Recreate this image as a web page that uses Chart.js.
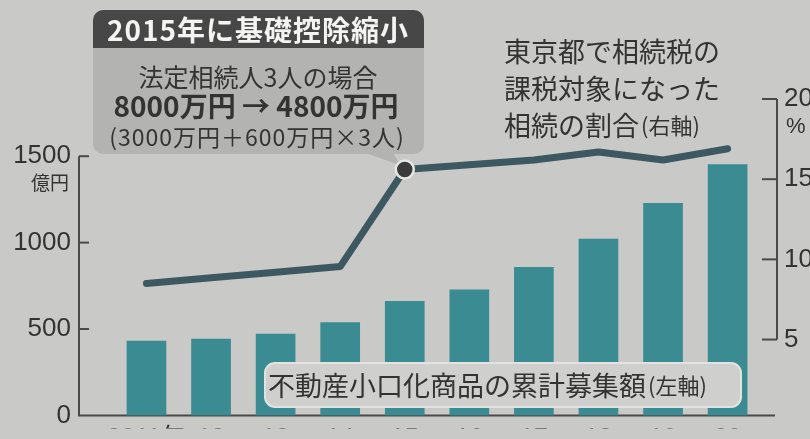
<!DOCTYPE html>
<html>
<head>
<meta charset="utf-8">
<script src="https://cdn.jsdelivr.net/npm/chart.js@4.4.1/dist/chart.umd.min.js"></script>
<style>
  body { margin: 0; background: #c9c9c7; }
  #wrap { width: 810px; height: 439px; position: relative; }
</style>
</head>
<body>
<div id="wrap"><canvas id="grafico"></canvas></div>
<script>
// 年
const years = [2011, 2012, 2013, 2014, 2015, 2016, 2017, 2018, 2019, 2020];
// 不動産小口化商品の累計募集額（億円、左軸）
const fundAmounts = [430, 442, 470, 537, 660, 727, 857, 1020, 1227, 1452];
// 相続税の課税対象になった相続の割合（％、右軸）
const taxRatio = [8.5, 8.85, 9.2, 9.55, 15.6, 15.9, 16.2, 16.7, 16.2, 16.9];
const leftTicks = [0, 500, 1000, 1500];
const rightTicks = [5, 10, 15, 20];

const numFont = "'Liberation Sans', 'Noto Sans CJK JP', sans-serif";
const jpFont = "'Noto Sans CJK JP', sans-serif";
const ink = '#333333';

function roundRect(c, x, y, w, h, r) {
    c.beginPath();
    c.roundRect(x, y, w, h, r);
}

const decoracao = {
    id: 'decoracao',
    beforeDatasetsDraw(chart) {
        const c = chart.ctx;
        const yl = chart.scales.y;
        const yr = chart.scales.y1;
        const area = chart.chartArea;
        c.save();
        c.strokeStyle = '#4a4a4a';
        c.lineWidth = 2;
        // eixo esquerdo
        c.beginPath();
        c.moveTo(area.left, yl.getPixelForValue(1500));
        c.lineTo(area.left, area.bottom);
        c.lineTo(area.right - 2, area.bottom);
        c.stroke();
        leftTicks.slice(1).forEach(v => {
            const p = yl.getPixelForValue(v);
            c.beginPath();
            c.moveTo(area.left, p);
            c.lineTo(area.left + 10, p);
            c.stroke();
        });
        // eixo direito
        c.beginPath();
        c.moveTo(area.right, yr.getPixelForValue(20));
        c.lineTo(area.right, yr.getPixelForValue(5));
        c.stroke();
        rightTicks.forEach(v => {
            const p = yr.getPixelForValue(v);
            c.beginPath();
            c.moveTo(area.right, p);
            c.lineTo(area.right - 15, p);
            c.stroke();
        });
        // unidades
        c.fillStyle = ink;
        c.font = '19px ' + jpFont;
        c.textAlign = 'right';
        c.textBaseline = 'middle';
        c.fillText('億円', 69, yl.getPixelForValue(1500) + 27);
        c.font = '22px ' + numFont;
        c.textAlign = 'left';
        c.fillText('%', 786, yr.getPixelForValue(20) + 28);
        c.restore();
    },
    afterDatasetsDraw(chart) {
        const c = chart.ctx;
        c.save();
        // caixa da legenda das barras
        roundRect(c, 265, 363, 476, 44, 10);
        c.fillStyle = '#cfcfcd';
        c.fill();
        c.strokeStyle = '#e2e2e0';
        c.lineWidth = 2;
        c.stroke();
        c.fillStyle = ink;
        c.textBaseline = 'middle';
        c.textAlign = 'left';
        c.font = '27px ' + jpFont;
        const t1 = '不動産小口化商品の累計募集額';
        c.fillText(t1, 268, 386);
        const w1 = c.measureText(t1).width;
        c.font = '22px ' + jpFont;
        c.fillText('(左軸)', 270 + w1, 386);

        // texto da linha
        c.font = '27px ' + jpFont;
        c.fillText('東京都で相続税の', 504, 52);
        c.fillText('課税対象になった', 504, 89);
        const t2 = '相続の割合';
        c.fillText(t2, 504, 126);
        const w2 = c.measureText(t2).width;
        c.font = '22px ' + jpFont;
        c.fillText('(右軸)', 506 + w2, 126);

        // caixa 2015
        const meta = chart.getDatasetMeta(1);
        const pt = meta.data[4];
        c.fillStyle = '#b3b3b1';
        roundRect(c, 93, 40, 331, 114, [0, 0, 10, 10]);
        c.fill();
        c.beginPath();
        c.moveTo(366, 153);
        c.lineTo(393, 153);
        c.lineTo(pt.x - 4, pt.y - 4);
        c.closePath();
        c.fill();
        c.fillStyle = '#474747';
        roundRect(c, 93, 10, 331, 38, [10, 10, 0, 0]);
        c.fill();
        c.textAlign = 'center';
        c.fillStyle = '#f4f4f2';
        c.font = 'bold 28px ' + jpFont;
        c.letterSpacing = '1px';
        c.fillText('2015年に基礎控除縮小', 258, 30);
        c.letterSpacing = '0px';
        c.fillStyle = ink;
        c.font = '25px ' + jpFont;
        c.fillText('法定相続人3人の場合', 258, 77);
        c.font = 'bold 28px ' + jpFont;
        c.fillText('8000万円 → 4800万円', 256, 106);
        c.font = '23px ' + jpFont;
        c.letterSpacing = '1px';
        c.fillText('(3000万円＋600万円×3人)', 257, 137);
        c.letterSpacing = '0px';

        // marcador 2015
        c.beginPath();
        c.arc(pt.x, pt.y, 9, 0, Math.PI * 2);
        c.fillStyle = '#3b3b3b';
        c.fill();
        c.lineWidth = 2.5;
        c.strokeStyle = '#e6e6e4';
        c.stroke();
        c.restore();
    }
};

const ctx = document.getElementById('grafico').getContext('2d');
const grafico = new Chart(ctx, {
    data: {
        datasets: [{
            type: 'bar',
            label: '不動産小口化商品の累計募集額',
            data: years.map((y, i) => ({ x: y, y: fundAmounts[i] })),
            backgroundColor: '#3a8b92',
            borderWidth: 0,
            barThickness: 39,
            yAxisID: 'y',
            order: 2
        }, {
            type: 'line',
            label: '相続税の課税対象になった相続の割合',
            data: years.map((y, i) => ({ x: y, y: taxRatio[i] })),
            borderColor: '#3e5862',
            borderWidth: 7,
            borderCapStyle: 'round',
            borderJoinStyle: 'round',
            pointRadius: 0,
            tension: 0,
            yAxisID: 'y1',
            order: 1
        }]
    },
    options: {
        responsive: true,
        maintainAspectRatio: false,
        animation: false,
        layout: { padding: { top: 99, left: 0, right: 0, bottom: 0 } },
        plugins: {
            legend: { display: false },
            tooltip: { enabled: false }
        },
        scales: {
            x: {
                type: 'linear',
                offset: false,
                min: 2009.955,
                max: 2020.765,
                grid: { display: false, drawTicks: false, offset: false },
                border: { display: false },
                afterBuildTicks: s => { s.ticks = years.map(v => ({ value: v })); },
                afterFit: s => { s.height = 13; },
                ticks: {
                    padding: 9,
                    color: ink,
                    font: { family: numFont, size: 25 },
                    maxRotation: 0,
                    autoSkip: false,
                    callback: v => v === 2011 ? '2011年' : String(v).slice(2)
                }
            },
            y: {
                position: 'left',
                min: 0,
                max: 1831,
                grid: { display: false, drawTicks: false },
                border: { display: false },
                afterBuildTicks: s => { s.ticks = leftTicks.map(v => ({ value: v })); },
                afterFit: s => { s.width = 79; },
                ticks: {
                    padding: 8,
                    color: ink,
                    font: { family: numFont, size: 26 },
                    callback: v => String(v)
                }
            },
            y1: {
                position: 'right',
                min: 0.27,
                max: 20,
                grid: { display: false, drawTicks: false },
                border: { display: false },
                afterBuildTicks: s => { s.ticks = rightTicks.map(v => ({ value: v })); },
                afterFit: s => { s.width = 33; },
                ticks: {
                    padding: 7,
                    color: ink,
                    font: { family: numFont, size: 26 },
                    callback: v => String(v)
                }
            }
        }
    },
    plugins: [decoracao]
});
</script>
</body>
</html>
